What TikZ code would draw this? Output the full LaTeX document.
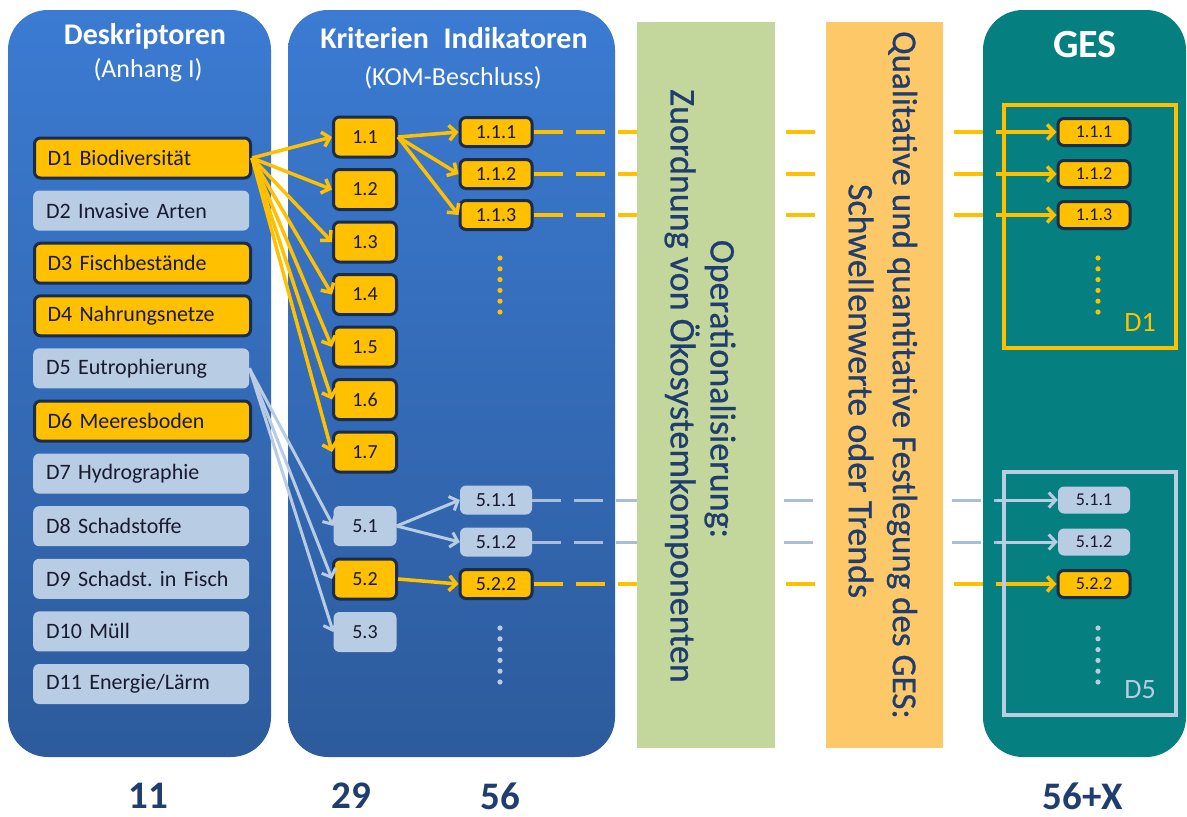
\documentclass[tikz,border=0pt]{standalone}
\usepackage{fontspec}
\setmainfont{Carlito}
\newfontfamily\stripfont[FakeBold=0.6]{Carlito}
\usetikzlibrary{arrows.meta}
\definecolor{pantop}{HTML}{3B7BD2}
\definecolor{panbot}{HTML}{2D5B9C}
\definecolor{gesteal}{HTML}{067F80}
\definecolor{boxy}{HTML}{FFC000}
\definecolor{boxl}{HTML}{B8CCE4}
\definecolor{boxline}{HTML}{1C2B48}
\definecolor{txtdark}{HTML}{1A1A2E}
\definecolor{txtblue}{HTML}{1F3D6E}
\definecolor{stripg}{HTML}{C3D69B}
\definecolor{stripo}{HTML}{FDC867}
\definecolor{lline}{HTML}{A8BEDC}
\newcommand\myfs[1]{\fontsize{#1}{#1}\selectfont}
\frenchspacing
\begin{document}
\begin{tikzpicture}[x=1pt,y=-1pt,
  panel/.style={rounded corners=40pt, top color=pantop, bottom color=panbot, draw=none, inner sep=0pt},
  gespanel/.style={rounded corners=40pt, fill=gesteal, draw=none, inner sep=0pt},
  strip/.style={draw=none, inner sep=0pt},
  ybox/.style={fill=boxy, draw=boxline, line width=3pt, rounded corners=6pt, text=txtdark},
  lbox/.style={fill=boxl, draw=none, rounded corners=6pt, text=txtdark},
  desc/.style={minimum height=40pt, text width=190pt, inner xsep=13pt, align=left, font=\myfs{22}, anchor=west},
  crit/.style={minimum width=63pt, minimum height=40pt, inner sep=0pt, font=\myfs{20}},
  ind/.style={minimum width=72pt, minimum height=29pt, inner sep=0pt, font=\myfs{20}},
  gbox/.style={minimum width=72pt, minimum height=27pt, inner sep=0pt, font=\myfs{18}},
  yarr/.style={draw=boxy, line width=3.5pt, -{Straight Barb[length=7pt,width=15pt]}},
  larr/.style={draw=boxl, line width=3pt, -{Straight Barb[length=7pt,width=15pt]}},
  ydash/.style={draw=boxy, line width=3.5pt, dash pattern=on 29pt off 13pt},
  ldash/.style={draw=lline, line width=3pt, dash pattern=on 29pt off 13pt},
  title/.style={text=white, font=\bfseries\myfs{30}},
  subtitle/.style={text=white, font=\myfs{26}},
  num/.style={text=txtblue, font=\bfseries\myfs{39}, inner sep=0pt},
  striptext/.style={text=txtblue, font=\stripfont\myfs{36}, rotate=-90, inner sep=0pt}
]
\useasboundingbox (0,0) rectangle (1187,817);
\fill[white] (0,0) rectangle (1187,817);

% panels
\node[panel, minimum width=263pt, minimum height=747pt] (p1) at (139.5,383.5) {};
\node[panel, minimum width=327pt, minimum height=747pt] (p2) at (451.5,383.5) {};
\node[gespanel, minimum width=203pt, minimum height=747pt] (p3) at (1084.5,383.5) {};

% titles
\node[title] (t1) at (145,36) {Deskriptoren};
\node[subtitle] (t1b) at (148,70) {(Anhang I)};
\node[title] (t2) at (454,38) {Kriterien\hspace{8pt} Indikatoren};
\node[subtitle] (t2b) at (453,78) {(KOM-Beschluss)};
\node[title, font=\bfseries\myfs{40}] (t3) at (1085,45) {GES};

% descriptors
\node[desc, ybox] (d1)  at (33,158)   {D1 Biodiversität};
\node[desc, lbox] (d2)  at (33,210.6) {D2 Invasive Arten};
\node[desc, ybox] (d3)  at (33,263.2) {D3 Fischbestände};
\node[desc, ybox] (d4)  at (33,315.8) {D4 Nahrungsnetze};
\node[desc, lbox] (d5)  at (33,368.4) {D5 Eutrophierung};
\node[desc, ybox] (d6)  at (33,421)   {D6 Meeresboden};
\node[desc, lbox] (d7)  at (33,473.6) {D7 Hydrographie};
\node[desc, lbox] (d8)  at (33,526.2) {D8 Schadstoffe};
\node[desc, lbox] (d9)  at (33,578.8) {D9 Schadst. in Fisch};
\node[desc, lbox] (d10) at (33,631.4) {D10 Müll};
\node[desc, lbox] (d11) at (33,684)   {D11 Energie/Lärm};

% criteria
\node[crit, ybox] (c11) at (365,137) {1.1};
\node[crit, ybox] (c12) at (365,189.5) {1.2};
\node[crit, ybox] (c13) at (365,242) {1.3};
\node[crit, ybox] (c14) at (365,294.5) {1.4};
\node[crit, ybox] (c15) at (365,347) {1.5};
\node[crit, ybox] (c16) at (365,399.5) {1.6};
\node[crit, ybox] (c17) at (365,452) {1.7};
\node[crit, lbox] (c51) at (365,526) {5.1};
\node[crit, ybox] (c52) at (365,579) {5.2};
\node[crit, lbox] (c53) at (365,632) {5.3};

% indicators
\node[ind, ybox] (i111) at (496,132) {1.1.1};
\node[ind, ybox] (i112) at (496,174) {1.1.2};
\node[ind, ybox] (i113) at (496,215) {1.1.3};
\node[ind, lbox] (i511) at (496,500) {5.1.1};
\node[ind, lbox] (i512) at (496,542) {5.1.2};
\node[ind, ybox] (i522) at (496,584) {5.2.2};

% GES boxes
\node[gbox, ybox] (g111) at (1094,132) {1.1.1};
\node[gbox, ybox] (g112) at (1094,174) {1.1.2};
\node[gbox, ybox] (g113) at (1094,215) {1.1.3};
\node[gbox, lbox] (g511) at (1094,500) {5.1.1};
\node[gbox, lbox] (g512) at (1094,542) {5.1.2};
\node[gbox, ybox] (g522) at (1094,584) {5.2.2};

% connectors descriptor -> criteria
\foreach \t in {c11,c12,c13,c14,c15,c16,c17}
  \draw[yarr] (d1.east) -- (\t.west);
\foreach \t in {c51,c52,c53}
  \draw[larr] (d5.east) -- (\t.west);

% criteria -> indicators
\foreach \t in {i111,i112,i113}
  \draw[yarr] (c11.east) -- (\t.west);
\foreach \t in {i511,i512}
  \draw[larr] (c51.east) -- (\t.west);
\draw[yarr] (c52.east) -- (i522.west);

% indicators -> GES
\coordinate (k111) at (997,132);
\coordinate (k112) at (997,174);
\coordinate (k113) at (997,215);
\coordinate (k511) at (997,500);
\coordinate (k512) at (997,542);
\coordinate (k522) at (997,584);
\draw[ydash] (i111.east) -- (k111);
\draw[ydash] (i112.east) -- (k112);
\draw[ydash] (i113.east) -- (k113);
\draw[ldash] (i511.east) -- (k511);
\draw[ldash] (i512.east) -- (k512);
\draw[ydash] (i522.east) -- (k522);
\draw[yarr] (k111) -- (g111.west);
\draw[yarr] (k112) -- (g112.west);
\draw[yarr] (k113) -- (g113.west);
\draw[larr] (k511) -- (g511.west);
\draw[larr] (k512) -- (g512.west);
\draw[yarr] (k522) -- (g522.west);

% strips
\node[strip, fill=stripg, minimum width=138pt, minimum height=726pt] (sg) at (706,385) {};
\node[strip, fill=stripo, minimum width=117pt, minimum height=726pt] (so) at (884.5,385) {};
\node[striptext] (sg1) at (720,389) {Operationalisierung:};
\node[striptext] (sg2) at (682,386) {Zuordnung von Ökosystemkomponenten};
\node[striptext, font=\stripfont\myfs{35}] (so1) at (902,375) {Qualitative und quantitative Festlegung des GES:};
\node[striptext] (so2) at (861,391) {Schwellenwerte oder Trends};

% GES frames
\node[draw=boxy, line width=4pt, minimum width=172pt, minimum height=243pt] (f1) at (1090,226.5) {};
\node[draw=boxl, line width=4pt, minimum width=172pt, minimum height=243pt] (f5) at (1090,593.5) {};
\node[text=boxy, font=\myfs{28}] (l1) at (1140,322) {D1};
\node[text=boxl, font=\myfs{28}] (l5) at (1140,690) {D5};

% continuation dots
\foreach \k in {0,...,5} {
  \fill[boxy] (500,258+10.8*\k) circle (2.6pt);
  \fill[boxl] (500,628+10.8*\k) circle (2.6pt);
  \fill[boxy] (1098,258+10.8*\k) circle (2.6pt);
  \fill[boxl] (1098,628+10.8*\k) circle (2.6pt);
}

% counts
\node[num] (n1) at (148,796) {11};
\node[num] (n2) at (351,796) {29};
\node[num] (n3) at (500,796) {56};
\node[num] (n4) at (1083,796) {56+X};
\end{tikzpicture}
\end{document}
